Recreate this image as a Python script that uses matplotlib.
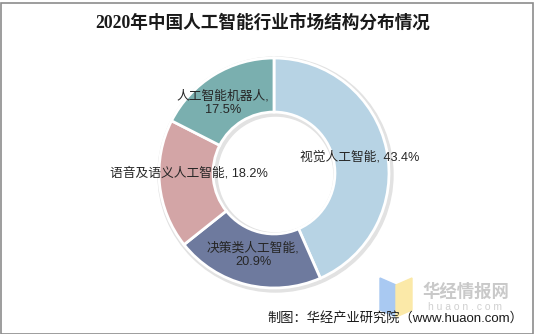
import matplotlib
matplotlib.use("Agg")
import matplotlib.pyplot as plt
from matplotlib.patches import Rectangle, Polygon, Wedge

plt.rcParams['font.family'] = ['Liberation Sans', 'Noto Sans CJK SC', 'DejaVu Sans']

title = "2020年中国人工智能行业市场结构分布情况"
categories = ["视觉人工智能", "决策类人工智能", "语音及语义人工智能", "人工智能机器人"]
values = [43.4, 20.9, 18.2, 17.5]
colors = ["#B7D3E4", "#6E7A9E", "#D3A5A6", "#7AAFAF"]
source = "制图：华经产业研究院（www.huaon.com）"

W, H = 534, 334
fig = plt.figure(figsize=(W / 100, H / 100), dpi=100)
ax = fig.add_axes([0, 0, 1, 1])

cx, cy, R = 274, H - 173, 115
ring = 0.47
ax.add_patch(Wedge((cx + 1.5, cy - 1.5), R + 2.5, 0, 360, width=R * ring + 5,
                   color="#E2E2E2", zorder=0))
ax.pie(values, colors=colors, startangle=90, counterclock=False,
       center=(cx, cy), radius=R, frame=True,
       wedgeprops=dict(width=R * ring, edgecolor="white", linewidth=2))
ax.set_xlim(0, W)
ax.set_ylim(0, H)
ax.set_aspect('equal')
ax.axis('off')

label_pos = [(360, 157), (253, 255), (189, 173), (223, 103)]
label_txt = [f"{categories[0]}, {values[0]}%",
             f"{categories[1]},\n{values[1]}%",
             f"{categories[2]}, {values[2]}%",
             f"{categories[3]},\n{values[3]}%"]
for (x, y), t in zip(label_pos, label_txt):
    ax.text(x, H - y, t, ha='center', va='center', fontsize=9.2,
            color="#262626", linespacing=1.15)

fig.text(0.5 - 4 / W, 1 - 23 / H, title, ha='center', va='center', fontsize=12.7,
         fontweight='bold', color="#1a1a1a",
         family=['Liberation Serif', 'Noto Sans CJK SC'])

# watermark logo
ax.add_patch(Polygon([(380, H - 278), (396, H - 285), (396, H - 317), (380, H - 310)],
                     closed=True, color="#A9C9F2", zorder=3))
ax.add_patch(Polygon([(396, H - 285), (412, H - 278), (412, H - 310), (396, H - 317)],
                     closed=True, color="#FBE9A8", zorder=3))
ax.text(466, H - 291, "华经情报网", ha='center', va='center', fontsize=12.5,
        fontweight='bold', color="#C9C9C9", zorder=3)
ax.text(465, H - 307, "h u a o n . c o m", ha='center', va='center', fontsize=7.5,
        color="#D0D0D0", zorder=3)

ax.text(523, H - 318, source, ha='right', va='center', fontsize=9.5,
        color="#1a1a1a", zorder=4)

fig.patches.append(Rectangle((0.5 / W, 0.5 / H), 1 - 2 / W, 1 - 3 / H,
                             transform=fig.transFigure, fill=False,
                             edgecolor="#8C8C8C", linewidth=1.2))

fig.savefig("out.png", dpi=100)
